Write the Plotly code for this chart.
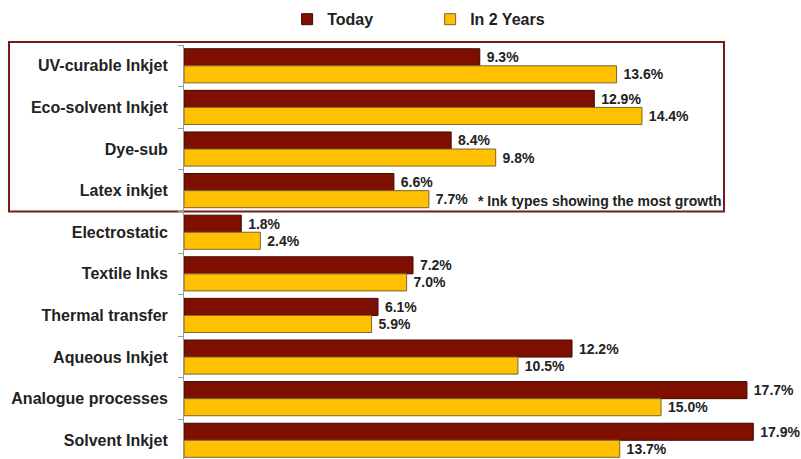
import plotly.graph_objects as go

# Ink usage share, today vs. expected in two years
categories = [
    "UV-curable Inkjet", "Eco-solvent Inkjet", "Dye-sub", "Latex inkjet",
    "Electrostatic", "Textile Inks", "Thermal transfer", "Aqueous Inkjet",
    "Analogue processes", "Solvent Inkjet",
]
today = [9.3, 12.9, 8.4, 6.6, 1.8, 7.2, 6.1, 12.2, 17.7, 17.9]
in_two_years = [13.6, 14.4, 9.8, 7.7, 2.4, 7.0, 5.9, 10.5, 15.0, 13.7]

RED = "#7f1000"
GOLD = "#ffc000"
FONT = "Liberation Sans, Arial, sans-serif"

fig = go.Figure()
fig.add_trace(go.Bar(
    y=categories, x=today, orientation="h", name="Today",
    marker=dict(color=RED, line=dict(color="#3a0800", width=1)),
    texttemplate=" %{x:.1f}%", textposition="outside", cliponaxis=False,
    textfont=dict(family=FONT, size=14, color="#222", weight="bold"),
    showlegend=False,
))
fig.add_trace(go.Bar(
    y=categories, x=in_two_years, orientation="h", name="In 2 Years",
    marker=dict(color=GOLD, line=dict(color="#7a6630", width=1)),
    texttemplate=" %{x:.1f}%", textposition="outside", cliponaxis=False,
    textfont=dict(family=FONT, size=14, color="#222", weight="bold"),
    showlegend=False,
))

# square legend swatches
for name, col, edge in [("Today", RED, "#3a0800"), ("In 2 Years", GOLD, "#7a6630")]:
    fig.add_trace(go.Scatter(
        x=[None], y=[None], mode="markers", name=name,
        marker=dict(symbol="square", size=11, color=col, line=dict(color=edge, width=1)),
    ))

# top margin 45px, plot height 414px; y range spans 9.95 category slots
y_top, y_bot = -0.5, 9.45
def yp(v):
    return (y_bot - v) / (y_bot - y_top)

fig.add_shape(
    type="rect", xref="paper", yref="paper",
    x0=(9 - 184) / 617, x1=(724 - 184) / 617,
    y0=yp(3.5), y1=yp(-0.57),
    line=dict(color="#7a1a1a", width=2), fillcolor="rgba(0,0,0,0)", layer="below",
)
fig.add_annotation(
    text="* Ink types showing the most growth", xref="paper", yref="paper",
    x=(723 - 184) / 617, y=yp(3.25), xanchor="right", yanchor="middle",
    showarrow=False, font=dict(family=FONT, size=14, color="#222", weight="bold"),
)

fig.update_layout(
    width=801, height=459,
    margin=dict(l=184, r=0, t=45, b=0),
    paper_bgcolor="white", plot_bgcolor="white",
    barmode="group", bargap=0.18, bargroupgap=0,
    legend=dict(
        orientation="h", xref="container", x=0.537, xanchor="center",
        yref="container", y=0.995, yanchor="top",
        font=dict(family=FONT, size=16, color="#222", weight="bold"),
        itemwidth=30, entrywidth=98, bgcolor="rgba(0,0,0,0)",
    ),
    xaxis=dict(range=[0, 19.4], visible=False, showgrid=False, zeroline=False),
    yaxis=dict(
        categoryorder="array", categoryarray=categories, range=[y_bot, y_top],
        showline=True, linecolor="#9a9a9a", linewidth=1,
        ticks="outside", ticklen=5, tickcolor="#9a9a9a", tickson="boundaries",
        tickfont=dict(family=FONT, size=16, color="#222", weight="bold"),
        ticklabelstandoff=12, showgrid=False,
    ),
)

fig.write_html("out.html")
